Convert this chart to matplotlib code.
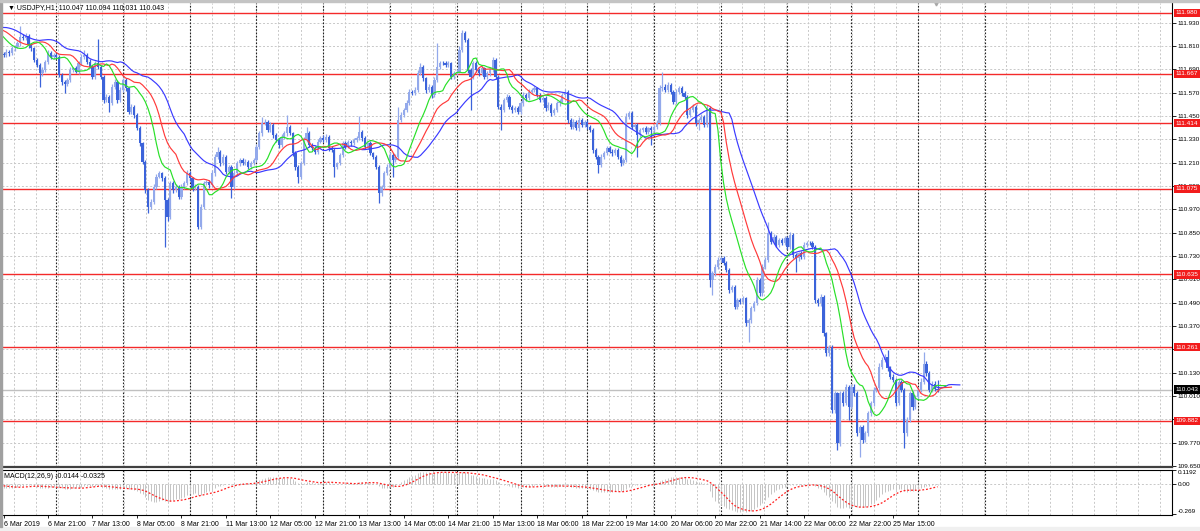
import numpy as np
import matplotlib.pyplot as plt
from matplotlib.patches import Rectangle
from matplotlib.transforms import blended_transform_factory

plt.rcParams['font.family'] = ['Liberation Sans', 'DejaVu Sans']

# closes before the first visible bar, only used to warm up the indicators
closes_before = [111.93, 111.95, 111.92, 111.90, 111.94, 111.96, 111.93, 111.91, 111.89, 111.92,
                 111.94, 111.91, 111.88, 111.90, 111.93, 111.91, 111.89, 111.87, 111.90, 111.92,
                 111.89, 111.86, 111.88, 111.90, 111.87, 111.85, 111.83, 111.80, 111.78, 111.77]

# USDJPY H1 closes, 6 Mar 05:00 -> 26 Mar 07:00 (open = previous close)
closes = [
    111.764, 111.781, 111.773, 111.798, 111.807, 111.824, 111.858, 111.850, 111.862, 111.815,
    111.798, 111.738, 111.712, 111.670, 111.687, 111.730, 111.773, 111.755, 111.764, 111.755,
    111.661, 111.627, 111.615, 111.635, 111.687, 111.695, 111.678, 111.721, 111.755, 111.764,
    111.730, 111.704, 111.652, 111.721, 111.704, 111.652, 111.532, 111.550, 111.515, 111.601,
    111.627, 111.532, 111.584, 111.635, 111.592, 111.472, 111.498, 111.455, 111.387, 111.309,
    111.215, 111.069, 110.984, 111.009, 111.087, 111.138, 111.155, 111.129, 111.018, 110.932,
    111.104, 111.069, 111.087, 111.035, 111.087, 111.104, 111.155, 111.129, 111.078, 111.087,
    110.881, 110.984, 111.104, 111.112, 111.095, 111.155, 111.241, 111.267, 111.207, 111.241,
    111.164, 111.189, 111.087, 111.155, 111.207, 111.224, 111.207, 111.215, 111.189, 111.207,
    111.224, 111.292, 111.361, 111.412, 111.421, 111.378, 111.404, 111.352, 111.327, 111.301,
    111.344, 111.361, 111.395, 111.361, 111.258, 111.189, 111.138, 111.207, 111.327, 111.361,
    111.301, 111.284, 111.267, 111.318, 111.335, 111.327, 111.344, 111.284, 111.275, 111.189,
    111.207, 111.249, 111.309, 111.292, 111.318, 111.309, 111.327, 111.335, 111.369, 111.335,
    111.292, 111.309, 111.258, 111.241, 111.189, 111.052, 111.087, 111.155, 111.189, 111.249,
    111.224, 111.241, 111.430, 111.455, 111.481, 111.515, 111.575, 111.567, 111.584, 111.670,
    111.704, 111.644, 111.584, 111.601, 111.558, 111.635, 111.704, 111.721, 111.721, 111.712,
    111.721, 111.652, 111.670, 111.678, 111.790, 111.875, 111.841, 111.687, 111.652, 111.721,
    111.687, 111.670, 111.695, 111.652, 111.670, 111.687, 111.738, 111.652, 111.498, 111.481,
    111.532, 111.550, 111.498, 111.481, 111.489, 111.472, 111.515, 111.558, 111.541, 111.575,
    111.584, 111.592, 111.558, 111.532, 111.541, 111.489, 111.507, 111.464, 111.481, 111.515,
    111.524, 111.558, 111.575, 111.430, 111.395, 111.421, 111.387, 111.430, 111.404, 111.421,
    111.395, 111.378, 111.275, 111.241, 111.198, 111.241, 111.258, 111.284, 111.267, 111.258,
    111.275, 111.241, 111.207, 111.224, 111.446, 111.464, 111.395, 111.404, 111.352, 111.378,
    111.386, 111.369, 111.386, 111.378, 111.395, 111.412, 111.592, 111.601, 111.584, 111.609,
    111.575, 111.524, 111.575, 111.592, 111.567, 111.549, 111.455, 111.481, 111.498, 111.412,
    111.429, 111.446, 111.404, 111.489, 110.606, 110.640, 110.675, 110.709, 110.718, 110.692,
    110.658, 110.555, 110.572, 110.469, 110.503, 110.495, 110.512, 110.383, 110.400, 110.460,
    110.486, 110.606, 110.538, 110.675, 110.709, 110.846, 110.803, 110.829, 110.786, 110.812,
    110.795, 110.821, 110.778, 110.838, 110.735, 110.718, 110.743, 110.726, 110.786, 110.795,
    110.795, 110.778, 110.503, 110.486, 110.520, 110.332, 110.229, 110.263, 109.937, 110.023,
    109.766, 110.023, 109.972, 110.057, 109.954, 110.057, 110.023, 109.817, 109.852, 109.783,
    109.817, 109.920, 109.972, 110.040, 110.049, 110.160, 110.195, 110.212, 110.152, 110.109,
    110.092, 109.972, 110.083, 110.040, 109.817, 109.886, 110.024, 109.954, 110.006, 110.040,
    110.083, 110.177, 110.126, 110.040, 110.074, 110.047, 110.043]

# wick lengths above / below the candle body, in thousandths of a yen
wick_up = [
    10, 12, 8, 14, 9, 11, 55, 12, 15, 9, 10, 8, 12, 9, 14, 10, 16, 9, 12, 8,
    10, 12, 9, 11, 14, 8, 10, 12, 15, 26, 9, 11, 8, 14, 124, 10, 9, 12, 8, 15,
    12, 9, 14, 11, 10, 8, 13, 9, 10, 12, 9, 11, 10, 14, 12, 16, 10, 9, 12, 8,
    14, 10, 12, 9, 11, 13, 15, 10, 9, 12, 8, 14, 12, 10, 9, 15, 13, 25, 10, 12,
    9, 11, 10, 13, 12, 9, 10, 14, 8, 11, 12, 15, 14, 35, 12, 10, 13, 9, 11, 10,
    12, 14, 60, 10, 9, 11, 8, 14, 16, 34, 10, 9, 12, 13, 11, 15, 12, 9, 10, 11,
    9, 12, 14, 10, 11, 9, 12, 10, 81, 11, 10, 9, 12, 8, 10, 11, 9, 14, 12, 15,
    10, 12, 68, 14, 12, 15, 13, 11, 14, 16, 18, 10, 9, 14, 11, 15, 120, 12, 14, 10,
    12, 9, 11, 15, 18, 18, 14, 10, 9, 13, 12, 10, 14, 9, 12, 11, 17, 10, 9, 12,
    11, 14, 10, 9, 12, 10, 13, 15, 11, 12, 10, 14, 9, 11, 12, 10, 13, 9, 11, 12,
    14, 12, 15, 9, 10, 12, 9, 13, 10, 11, 9, 10, 8, 11, 9, 14, 12, 13, 10, 11,
    12, 9, 10, 11, 21, 14, 12, 10, 11, 12, 10, 12, 9, 11, 10, 15, 20, 77, 12, 14,
    12, 9, 15, 13, 11, 10, 9, 12, 14, 10, 11, 12, 9, 18, 10, 14, 12, 16, 13, 11,
    10, 12, 9, 11, 13, 10, 12, 9, 10, 14, 15, 14, 12, 16, 18, 60, 12, 14, 10, 12,
    11, 13, 10, 14, 9, 11, 10, 12, 14, 11, 12, 10, 9, 11, 12, 10, 9, 11, 10, 12,
    9, 14, 12, 15, 10, 14, 12, 10, 11, 9, 12, 14, 13, 15, 12, 18, 14, 12, 34, 10,
    12, 9, 14, 10, 11, 15, 13, 11, 10, 14, 18, 60, 12, 10, 13, 11, 47]
wick_dn = [
    12, 9, 14, 10, 11, 8, 12, 10, 9, 14, 11, 12, 10, 69, 12, 9, 11, 14, 10, 9,
    12, 15, 48, 11, 10, 12, 9, 11, 10, 12, 13, 9, 14, 11, 10, 12, 15, 11, 43, 10,
    12, 14, 9, 11, 13, 10, 12, 14, 11, 15, 14, 16, 34, 12, 10, 11, 9, 12, 240, 20,
    11, 14, 12, 10, 13, 11, 9, 12, 14, 10, 14, 12, 10, 11, 13, 9, 12, 10, 14, 11,
    12, 10, 61, 11, 9, 12, 10, 11, 13, 10, 9, 11, 10, 12, 9, 11, 10, 13, 12, 14,
    11, 10, 12, 9, 14, 16, 34, 12, 10, 11, 12, 10, 13, 11, 9, 12, 10, 14, 12, 51,
    13, 11, 10, 12, 9, 11, 10, 12, 9, 11, 12, 10, 11, 13, 14, 51, 15, 12, 10, 11,
    86, 12, 10, 11, 12, 10, 9, 11, 10, 12, 10, 12, 14, 11, 13, 10, 9, 12, 10, 11,
    9, 12, 10, 11, 9, 10, 12, 14, 171, 12, 10, 12, 9, 11, 10, 12, 9, 12, 14, 103,
    12, 10, 11, 13, 9, 12, 10, 11, 12, 9, 11, 10, 12, 9, 11, 13, 10, 12, 11, 10,
    12, 9, 10, 14, 12, 11, 10, 12, 9, 11, 12, 10, 14, 12, 43, 10, 12, 11, 9, 12,
    10, 12, 14, 11, 10, 12, 11, 10, 111, 12, 11, 10, 12, 77, 11, 10, 9, 12, 11, 10,
    12, 14, 10, 11, 12, 10, 13, 11, 12, 14, 34, 12, 11, 10, 34, 77, 14, 12, 11, 10,
    12, 14, 11, 13, 12, 11, 10, 12, 94, 14, 12, 10, 14, 12, 11, 10, 12, 11, 10, 12,
    11, 10, 12, 11, 14, 69, 12, 10, 11, 12, 10, 12, 14, 12, 11, 13, 12, 15, 14, 13,
    35, 12, 14, 11, 68, 12, 14, 12, 120, 15, 12, 14, 11, 12, 10, 12, 11, 10, 12, 14,
    12, 14, 11, 10, 77, 13, 12, 14, 11, 12, 10, 12, 14, 11, 12, 10, 12]

levels = [111.980, 111.667, 111.414, 111.075, 110.635, 110.261, 109.882]
price_ticks = [109.650, 109.770, 109.890, 110.010, 110.130, 110.250, 110.370, 110.490, 110.610,
               110.730, 110.850, 110.970, 111.090, 111.210, 111.330, 111.450, 111.570, 111.690,
               111.810, 111.930]
time_labels = ["6 Mar 2019", "6 Mar 21:00", "7 Mar 13:00", "8 Mar 05:00", "8 Mar 21:00",
               "11 Mar 13:00", "12 Mar 05:00", "12 Mar 21:00", "13 Mar 13:00", "14 Mar 05:00",
               "14 Mar 21:00", "15 Mar 13:00", "18 Mar 06:00", "18 Mar 22:00", "19 Mar 14:00",
               "20 Mar 06:00", "20 Mar 22:00", "21 Mar 14:00", "22 Mar 06:00", "22 Mar 22:00",
               "25 Mar 15:00"]
day_starts = [19, 43, 67, 91, 115, 139, 163, 186, 210, 234, 258, 282, 305, 329, 353]
macd_shown = (-0.0144, -0.0325)
macd_ticks = [0.1192, 0.0, -0.269]

# ---- candles
c = np.array(closes)
o = np.r_[closes_before[-1], c[:-1]]
top = np.maximum(o, c)
bot = np.minimum(o, c)
hi = top + np.array(wick_up) / 1000
lo = bot - np.array(wick_dn) / 1000
x = np.arange(len(c))
up = c > o
npre = len(closes_before)


def smma(v, n):
    out = np.full(len(v), np.nan)
    out[n - 1] = v[:n].mean()
    for i in range(n, len(v)):
        out[i] = (out[i - 1] * (n - 1) + v[i]) / n
    return out


def ema(v, n):
    a = 2 / (n + 1)
    out = np.empty(len(v))
    out[0] = v[0]
    for i in range(1, len(v)):
        out[i] = a * v[i] + (1 - a) * out[i - 1]
    return out


# ---- figure in pixel layout
W, H = 1200, 531
fig = plt.figure(figsize=(W / 100, H / 100), dpi=100)


def px_axes(left, top_, right, bottom):
    return fig.add_axes([left / W, 1 - bottom / H, (right - left) / W, (bottom - top_) / H])


ax = px_axes(2, 3, 1172, 467)
axm = px_axes(2, 470, 1172, 515)

x0, dx = 3.5, 2.78
x_lo, x_hi = (2 - x0) / dx, (1172 - x0) / dx
grid_x = [(80 + 22.05 * k - x0) / dx for k in range(-3, 50)]
grid_x = [g for g in grid_x if x_lo < g < x_hi]
gray_dash = dict(color='#c8c8c8', lw=0.7, ls=(0, (2, 2)), zorder=0)
sep_dash = dict(color='#202020', lw=0.8, ls=(0, (1.5, 1.5)), zorder=0.5)
small = 4.6

for a in (ax, axm):
    a.set_facecolor('white')
    for g in grid_x:
        a.axvline(g, **gray_dash)
    for d in day_starts:
        a.axvline(d, **sep_dash)
    a.spines['left'].set_visible(False)
    a.spines['right'].set_color('black')
    a.yaxis.tick_right()

for p in price_ticks:
    ax.axhline(p, **gray_dash)
axm.axhline(0, **gray_dash)

# price levels
for lv in levels:
    ax.axhline(lv, color='#f42a2a', lw=1, zorder=1.5)
ax.axhline(c[-1], color='#c0c0c0', lw=1, zorder=1.4)

bull, bear = '#93a9eb', '#3b63da'
ax.vlines(x[up], lo[up], hi[up], color=bull, lw=0.9, zorder=2)
ax.vlines(x[~up], lo[~up], hi[~up], color=bear, lw=0.9, zorder=2)
body = np.maximum(top - bot, 0.002)
ax.bar(x[up], body[up], bottom=bot[up], width=0.8, color=bull, lw=0, zorder=2.1)
ax.bar(x[~up], body[~up], bottom=bot[~up], width=0.8, color=bear, lw=0, zorder=2.1)

# Alligator on median price
med = np.r_[closes_before, (hi + lo) / 2]
for n, shift, col in [(13, 8, '#3a3aff'), (8, 5, '#ff3a3a'), (5, 3, '#28e028')]:
    v = smma(med, n)
    xs = np.arange(len(med)) - npre + shift
    keep = (xs >= -1) & ~np.isnan(v)
    ax.plot(xs[keep], v[keep], color=col, lw=0.85, zorder=3)

ax.set_xlim(x_lo, x_hi)
ax.set_ylim(109.6446, 112.0314)
ax.spines['top'].set_visible(False)
ax.spines['bottom'].set_color('#404040')
ax.spines['bottom'].set_linewidth(1.6)
ax.set_yticks(price_ticks)
ax.set_yticklabels([f"{p:.3f}" for p in price_ticks])
ax.tick_params(axis='y', length=3, width=0.6, labelsize=small, pad=1)
ax.tick_params(axis='x', bottom=False, labelbottom=False)

trans = blended_transform_factory(ax.transAxes, ax.transData)
for lv in levels:
    ax.text(1.0032, lv, f"{lv:.3f}", transform=trans, ha='left', va='center', color='white',
            fontsize=small, zorder=10, clip_on=False,
            bbox=dict(boxstyle='square,pad=0.25', fc='#f21c1c', ec='none'))
ax.text(1.0032, c[-1], f"{c[-1]:.3f}", transform=trans, ha='left', va='center', color='white',
        fontsize=small, zorder=10, clip_on=False,
        bbox=dict(boxstyle='square,pad=0.25', fc='black', ec='none'))
ax.plot([x[-1] - 0.5], [112.0314], marker='v', ms=3.5, color='#a8a8a8', clip_on=False, zorder=6)

# ---- MACD(12,26,9)
full_c = np.r_[closes_before, c]
macd = ema(full_c, 12) - ema(full_c, 26)
signal = np.r_[np.full(8, np.nan), np.convolve(macd, np.ones(9) / 9, mode='valid')]
axm.vlines(x, 0, macd[npre:], color='#c4c4c4', lw=0.7, zorder=2)
axm.plot(x, signal[npre:], color='#ff2020', lw=0.9, ls=(0, (1.5, 1.5)), zorder=3)
axm.set_ylim(-0.2778, 0.1192)
axm.set_xlim(x_lo, x_hi)
for s in ('top', 'bottom'):
    axm.spines[s].set_color('black')
axm.set_yticks(macd_ticks)
axm.set_yticklabels(["0.1192", "0.00", "-0.269"])
axm.tick_params(axis='y', length=3, width=0.6, labelsize=small, pad=1)
labs = axm.get_yticklabels()
labs[0].set_va('top')
labs[2].set_va('bottom')
axm.set_xticks([16 * k for k in range(len(time_labels))])
axm.set_xticklabels(time_labels, ha='left', fontsize=5)
axm.tick_params(axis='x', length=2, width=0.6, pad=2.5)
axm.set_xlim(x_lo, x_hi)

# ---- texts and window frame
fig.text(8 / W, 1 - 8 / H, f"\u25bc USDJPY,H1  {o[-1]:.3f} {hi[-1]:.3f} {lo[-1]:.3f} {c[-1]:.3f}",
         fontsize=5, va='center', ha='left')
fig.text(4 / W, 1 - 476 / H, f"MACD(12,26,9) {macd_shown[0]:.4f} {macd_shown[1]:.4f}",
         fontsize=5, va='center', ha='left')
fig.add_artist(Rectangle((0, 0), 1, 4 / H, transform=fig.transFigure, color='#f0f0f0', zorder=0))
fig.add_artist(Rectangle((0, 4 / H), 2 / W, 1 - 4 / H, transform=fig.transFigure, color='#a0a0a0'))
fig.add_artist(Rectangle((0, 1 - 2 / H), 1, 2 / H, transform=fig.transFigure, color='#c4c4c4'))

fig.savefig("out.png", dpi=100)
